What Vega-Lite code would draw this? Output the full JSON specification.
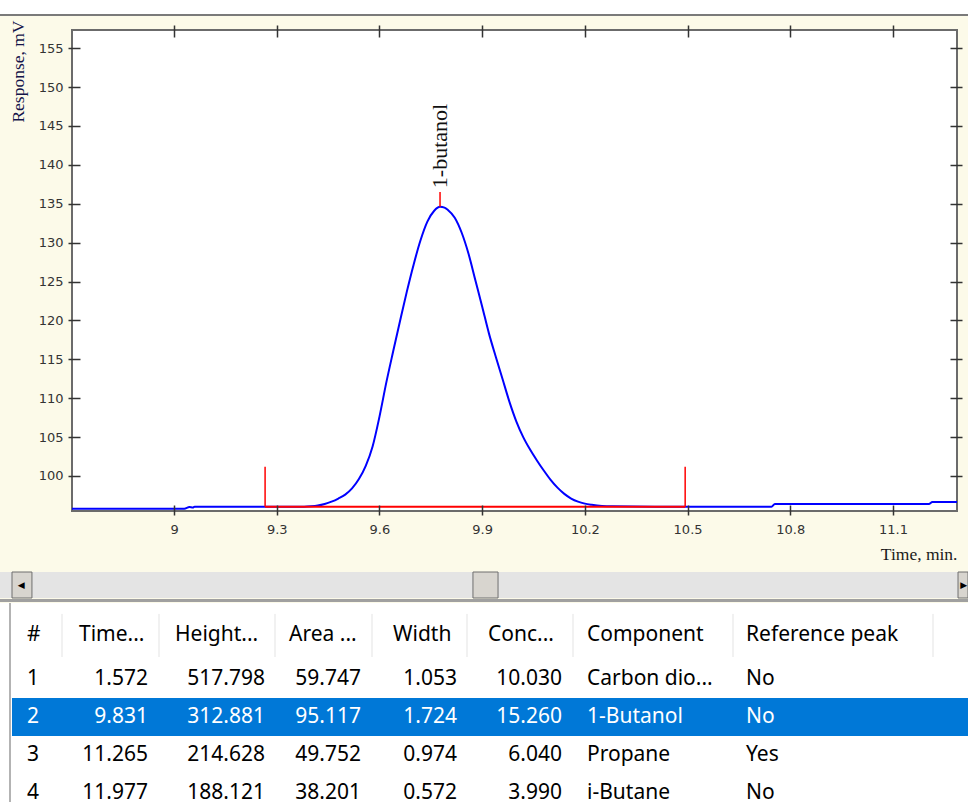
{
  "$schema": "https://vega.github.io/schema/vega-lite/v6.json",
  "background": "#fcfae9",
  "padding": 0,
  "config": {"view": {"stroke": null}, "concat": {"spacing": 0}},
  "datasets": {
    "trace": [
      {"t": 8.702, "mv": 95.8}, {"t": 9.03, "mv": 95.8}, {"t": 9.045, "mv": 96.0}, {"t": 9.055, "mv": 95.95}, {"t": 9.06, "mv": 96.05},
      {"t": 9.3, "mv": 96.05}, {"t": 9.38, "mv": 96.05}, {"t": 9.4, "mv": 96.1}, {"t": 9.42, "mv": 96.2}, {"t": 9.44, "mv": 96.4}, {"t": 9.46, "mv": 96.7},
      {"t": 9.48, "mv": 97.1}, {"t": 9.5, "mv": 97.6}, {"t": 9.52, "mv": 98.4}, {"t": 9.54, "mv": 99.6}, {"t": 9.56, "mv": 101.3},
      {"t": 9.58, "mv": 103.8}, {"t": 9.6, "mv": 107.6}, {"t": 9.62, "mv": 112.0}, {"t": 9.64, "mv": 116.0}, {"t": 9.66, "mv": 119.9},
      {"t": 9.68, "mv": 123.7}, {"t": 9.7, "mv": 127.2}, {"t": 9.72, "mv": 130.3}, {"t": 9.74, "mv": 132.7}, {"t": 9.76, "mv": 134.1},
      {"t": 9.777, "mv": 134.6}, {"t": 9.79, "mv": 134.5}, {"t": 9.8, "mv": 134.2}, {"t": 9.82, "mv": 133.2}, {"t": 9.84, "mv": 131.3},
      {"t": 9.86, "mv": 128.6}, {"t": 9.88, "mv": 125.2}, {"t": 9.9, "mv": 121.8}, {"t": 9.92, "mv": 118.3}, {"t": 9.94, "mv": 115.3},
      {"t": 9.96, "mv": 112.4}, {"t": 9.98, "mv": 109.5}, {"t": 10.0, "mv": 107.0}, {"t": 10.02, "mv": 105.0}, {"t": 10.04, "mv": 103.4},
      {"t": 10.06, "mv": 102.0}, {"t": 10.08, "mv": 100.7}, {"t": 10.1, "mv": 99.5}, {"t": 10.12, "mv": 98.5}, {"t": 10.14, "mv": 97.7},
      {"t": 10.16, "mv": 97.1}, {"t": 10.18, "mv": 96.7}, {"t": 10.2, "mv": 96.45}, {"t": 10.22, "mv": 96.3}, {"t": 10.25, "mv": 96.15},
      {"t": 10.28, "mv": 96.1}, {"t": 10.5, "mv": 96.05}, {"t": 10.745, "mv": 96.05}, {"t": 10.755, "mv": 96.4}, {"t": 11.205, "mv": 96.4},
      {"t": 11.215, "mv": 96.65}, {"t": 11.287, "mv": 96.65}
    ],
    "baseline": [{"t0": 9.266, "t1": 10.493, "level": 96.05}],
    "markers": [
      {"t": 9.266, "lo": 96.05, "hi": 101.2},
      {"t": 10.493, "lo": 96.05, "hi": 101.2},
      {"t": 9.777, "lo": 134.6, "hi": 136.5}
    ],
    "peaks": [{"t": 9.777, "mv": 137.0, "name": "1-butanol"}],
    "scroll": [
      {"part": "left", "from": 0.0124, "to": 0.033},
      {"part": "thumb", "from": 0.4886, "to": 0.5145},
      {"part": "right", "from": 0.9897, "to": 1.0}
    ],
    "arrows": [{"pos": 0.022, "glyph": "◀"}, {"pos": 0.9955, "glyph": "▶"}],
    "selected": [{"row": 2}],
    "seps": [{"b": 1}, {"b": 2}, {"b": 3}, {"b": 4}, {"b": 5}, {"b": 6}, {"b": 7}, {"b": 8}],
    "cells": [
      {"row": 0, "col": 0, "text": "#"}, {"row": 0, "col": 1, "text": "Time..."}, {"row": 0, "col": 2, "text": "Height..."}, {"row": 0, "col": 3, "text": "Area ..."},
      {"row": 0, "col": 4, "text": "Width"}, {"row": 0, "col": 5, "text": "Conc..."}, {"row": 0, "col": 6, "text": "Component"}, {"row": 0, "col": 7, "text": "Reference peak"},
      {"row": 1, "col": 0, "text": "1"}, {"row": 1, "col": 1, "text": "1.572"}, {"row": 1, "col": 2, "text": "517.798"}, {"row": 1, "col": 3, "text": "59.747"},
      {"row": 1, "col": 4, "text": "1.053"}, {"row": 1, "col": 5, "text": "10.030"}, {"row": 1, "col": 6, "text": "Carbon dio..."}, {"row": 1, "col": 7, "text": "No"},
      {"row": 2, "col": 0, "text": "2"}, {"row": 2, "col": 1, "text": "9.831"}, {"row": 2, "col": 2, "text": "312.881"}, {"row": 2, "col": 3, "text": "95.117"},
      {"row": 2, "col": 4, "text": "1.724"}, {"row": 2, "col": 5, "text": "15.260"}, {"row": 2, "col": 6, "text": "1-Butanol"}, {"row": 2, "col": 7, "text": "No"},
      {"row": 3, "col": 0, "text": "3"}, {"row": 3, "col": 1, "text": "11.265"}, {"row": 3, "col": 2, "text": "214.628"}, {"row": 3, "col": 3, "text": "49.752"},
      {"row": 3, "col": 4, "text": "0.974"}, {"row": 3, "col": 5, "text": "6.040"}, {"row": 3, "col": 6, "text": "Propane"}, {"row": 3, "col": 7, "text": "Yes"},
      {"row": 4, "col": 0, "text": "4"}, {"row": 4, "col": 1, "text": "11.977"}, {"row": 4, "col": 2, "text": "188.121"}, {"row": 4, "col": 3, "text": "38.201"},
      {"row": 4, "col": 4, "text": "0.572"}, {"row": 4, "col": 5, "text": "3.990"}, {"row": 4, "col": 6, "text": "i-Butane"}, {"row": 4, "col": 7, "text": "No"}
    ]
  },
  "columns": 1,
  "align": "none",
  "spacing": 0,
  "concat": [
    {
      "width": 968, "height": 14,
      "view": {"fill": "#ffffff", "stroke": null},
      "data": {"values": [{}]},
      "mark": {"type": "point", "size": 0, "opacity": 0}
    },
    {
      "width": 968, "height": 2,
      "view": {"fill": "#7a7a7a", "stroke": null},
      "data": {"values": [{}]},
      "mark": {"type": "point", "size": 0, "opacity": 0}
    },
    {
      "width": 957, "height": 481,
      "view": {"stroke": null},
      "resolve": {"axis": {"x": "independent", "y": "independent"}},
      "layer": [
        {
          "data": {"values": [{}]},
          "mark": {"type": "rect", "fill": "#ffffff", "stroke": "#6b6b6b", "strokeWidth": 2},
          "encoding": {
            "x": {"datum": 8.702, "type": "quantitative", "scale": {"domain": [8.702, 11.287], "range": [72, 957], "nice": false, "zero": false}, "axis": null},
            "x2": {"datum": 11.287},
            "y": {"datum": 95.5, "type": "quantitative", "scale": {"domain": [95.5, 157.33], "nice": false, "zero": false}, "axis": null},
            "y2": {"datum": 157.33}
          }
        },
        {
          "data": {"name": "trace"},
          "mark": {"type": "line", "color": "#0000ff", "strokeWidth": 2, "interpolate": "monotone"},
          "encoding": {
            "x": {"field": "t", "type": "quantitative",
              "scale": {"domain": [8.702, 11.287], "range": [72, 957], "nice": false, "zero": false},
              "axis": {"orient": "bottom", "values": [9, 9.3, 9.6, 9.9, 10.2, 10.5, 10.8, 11.1], "format": "~g", "zindex": 1,
                "domain": false, "grid": false, "offset": -6, "tickSize": 10, "tickColor": "#333333", "tickWidth": 1.5,
                "labelFont": "DejaVu Sans", "labelFontSize": 13, "labelColor": "#333333", "labelPadding": 8,
                "title": "Time, min.", "titleFont": "Liberation Serif", "titleFontSize": 17.5, "titleFontWeight": "normal",
                "titleColor": "#1a1a1a", "titleAnchor": "end", "titlePadding": 9}},
            "y": {"field": "mv", "type": "quantitative",
              "scale": {"domain": [95.5, 157.33], "nice": false, "zero": false},
              "axis": {"orient": "left", "values": [100, 105, 110, 115, 120, 125, 130, 135, 140, 145, 150, 155], "format": "d", "zindex": 1,
                "domain": false, "grid": false, "offset": -80, "tickSize": 12, "tickColor": "#333333", "tickWidth": 1.5,
                "labelFont": "DejaVu Sans", "labelFontSize": 13, "labelColor": "#333333", "labelPadding": 5,
                "title": "Response, mV", "titleFont": "Liberation Serif", "titleFontSize": 17.5, "titleFontWeight": "normal",
                "titleColor": "#14144a", "titleAnchor": "end", "titlePadding": 11, "titleY": -10}}
          }
        },
        {
          "data": {"name": "baseline"},
          "mark": {"type": "rule", "color": "#ff0000", "strokeWidth": 2},
          "encoding": {
            "x": {"field": "t0", "type": "quantitative",
              "scale": {"domain": [8.702, 11.287], "range": [72, 957], "nice": false, "zero": false},
              "axis": {"orient": "top", "values": [9, 9.3, 9.6, 9.9, 10.2, 10.5, 10.8, 11.1], "labels": false, "zindex": 1,
                "domain": false, "grid": false, "offset": -7, "tickSize": 12, "tickColor": "#333333", "tickWidth": 1.5,
                "title": ".", "titleColor": "#fcfae9", "titleFontSize": 2, "titleX": 120, "titleY": -21,
                "titleAlign": "left", "titleBaseline": "top", "titleAngle": 0}},
            "x2": {"field": "t1"},
            "y": {"field": "level", "type": "quantitative",
              "scale": {"domain": [95.5, 157.33], "nice": false, "zero": false},
              "axis": {"orient": "right", "values": [100, 105, 110, 115, 120, 125, 130, 135, 140, 145, 150, 155], "labels": false, "zindex": 1,
                "domain": false, "grid": false, "offset": -7, "tickSize": 12, "tickColor": "#333333", "tickWidth": 1.5, "title": null}}
          }
        },
        {
          "data": {"name": "markers"},
          "mark": {"type": "rule", "color": "#ff0000", "strokeWidth": 1.5},
          "encoding": {
            "x": {"field": "t", "type": "quantitative", "axis": null},
            "y": {"field": "lo", "type": "quantitative", "axis": null},
            "y2": {"field": "hi"}
          }
        },
        {
          "data": {"name": "peaks"},
          "mark": {"type": "text", "angle": 270, "align": "left", "baseline": "middle", "font": "Liberation Serif", "fontSize": 22, "color": "#111111"},
          "encoding": {
            "x": {"field": "t", "type": "quantitative", "axis": null},
            "y": {"field": "mv", "type": "quantitative", "axis": null},
            "text": {"field": "name"}
          }
        }
      ]
    },
    {
      "width": 968, "height": 8,
      "data": {"values": [{}]},
      "mark": {"type": "point", "size": 0, "opacity": 0}
    },
    {
      "width": 968, "height": 26,
      "view": {"fill": "#e4e4e4", "stroke": null},
      "layer": [
        {
          "data": {"name": "scroll"},
          "mark": {"type": "rect", "fill": "#d8d5cf", "stroke": "#6f6f6f", "strokeWidth": 1},
          "encoding": {
            "x": {"field": "from", "type": "quantitative", "scale": {"domain": [0, 1], "nice": false, "zero": false}, "axis": null},
            "x2": {"field": "to"},
            "y": {"datum": 0, "type": "quantitative", "scale": {"domain": [0, 1], "nice": false}, "axis": null},
            "y2": {"datum": 1}
          }
        },
        {
          "data": {"name": "arrows"},
          "mark": {"type": "text", "font": "DejaVu Sans", "fontSize": 9, "color": "#000000", "baseline": "middle", "align": "center"},
          "encoding": {
            "x": {"field": "pos", "type": "quantitative", "scale": {"domain": [0, 1], "nice": false, "zero": false}, "axis": null},
            "y": {"datum": 0.5, "type": "quantitative", "scale": {"domain": [0, 1], "nice": false}, "axis": null},
            "text": {"field": "glyph"}
          }
        }
      ]
    },
    {
      "width": 968, "height": 3,
      "view": {"fill": "#a0a0a0", "stroke": null},
      "data": {"values": [{}]},
      "mark": {"type": "point", "size": 0, "opacity": 0}
    },
    {
      "width": 968, "height": 201,
      "view": {"fill": "#ffffff", "stroke": null},
      "resolve": {"scale": {"x": "independent"}},
      "layer": [
        {
          "data": {"name": "selected"},
          "mark": {"type": "rect", "color": "#0078d7"},
          "encoding": {
            "x": {"datum": 0, "type": "quantitative", "scale": {"domain": [0, 1], "range": [12, 968], "nice": false, "zero": false}, "axis": null},
            "x2": {"datum": 1},
            "y": {"datum": 1.5, "type": "quantitative", "scale": {"domain": [0, 1, 2, 3, 4], "range": [32, 76, 114, 152, 190], "nice": false, "zero": false}, "axis": null},
            "y2": {"datum": 2.5}
          }
        },
        {
          "data": {"values": [{}]},
          "mark": {"type": "rule", "color": "#9a9a9a", "strokeWidth": 1.5},
          "encoding": {
            "x": {"datum": 0, "type": "quantitative", "scale": {"domain": [0, 1], "range": [10, 968], "nice": false, "zero": false}, "axis": null}
          }
        },
        {
          "data": {"name": "seps"},
          "mark": {"type": "rule", "color": "#e3e3e3", "strokeWidth": 1},
          "encoding": {
            "x": {"field": "b", "type": "quantitative", "scale": {"domain": [1, 2, 3, 4, 5, 6, 7, 8], "range": [62, 159, 275, 372, 467, 573, 733, 933], "nice": false, "zero": false}, "axis": null},
            "y": {"datum": -0.48, "type": "quantitative", "axis": null},
            "y2": {"datum": 0.5}
          }
        },
        {
          "data": {"name": "cells"},
          "transform": [{"filter": "datum.row === 0 || datum.col === 0 || datum.col >= 6"}],
          "mark": {"type": "text", "align": "left", "baseline": "middle", "font": "Noto Sans", "fontSize": 21},
          "encoding": {
            "x": {"field": "col", "type": "quantitative", "scale": {"domain": [0, 1, 2, 3, 4, 5, 6, 7], "range": [27, 79, 175, 289, 393, 488, 587, 746], "nice": false, "zero": false}, "axis": null},
            "y": {"field": "row", "type": "quantitative", "axis": null},
            "text": {"field": "text"},
            "color": {"condition": {"test": "datum.row === 2", "value": "#ffffff"}, "value": "#000000"}
          }
        },
        {
          "data": {"name": "cells"},
          "transform": [{"filter": "datum.row > 0 && datum.col >= 1 && datum.col <= 5"}],
          "mark": {"type": "text", "align": "right", "baseline": "middle", "font": "Noto Sans", "fontSize": 21},
          "encoding": {
            "x": {"field": "col", "type": "quantitative", "scale": {"domain": [1, 2, 3, 4, 5], "range": [148, 265, 361, 457, 562], "nice": false, "zero": false}, "axis": null},
            "y": {"field": "row", "type": "quantitative", "axis": null},
            "text": {"field": "text"},
            "color": {"condition": {"test": "datum.row === 2", "value": "#ffffff"}, "value": "#000000"}
          }
        }
      ]
    }
  ]
}
